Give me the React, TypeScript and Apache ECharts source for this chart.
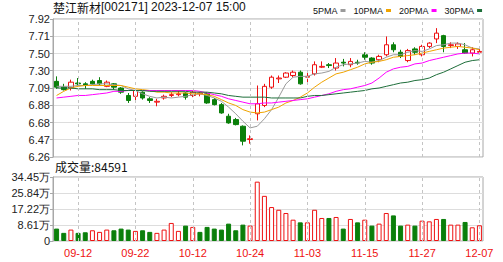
import React, { useEffect, useRef } from 'react';
import * as echarts from 'echarts';

const titleName = '楚江新材';
const titleRest = '[002171] 2023-12-07 15:00';
const volumeTitle = '成交量:84591';

const dates = [
  '09-07', '09-08', '09-11', '09-12', '09-13', '09-14', '09-15', '09-18', '09-19', '09-20',
  '09-21', '09-22', '09-25', '09-26', '09-27', '09-28', '10-09', '10-10', '10-11', '10-12',
  '10-13', '10-16', '10-17', '10-18', '10-19', '10-20', '10-23', '10-24', '10-25', '10-26',
  '10-27', '10-30', '10-31', '11-01', '11-02', '11-03', '11-06', '11-07', '11-08', '11-09',
  '11-10', '11-13', '11-14', '11-15', '11-16', '11-17', '11-20', '11-21', '11-22', '11-23',
  '11-24', '11-27', '11-28', '11-29', '11-30', '12-01', '12-04', '12-05', '12-06', '12-07',
];

// [open, close, low, high]
const ohlc = [
  [7.17, 7.10, 7.08, 7.23], [7.10, 7.07, 7.06, 7.14], [7.09, 7.16, 7.06, 7.19], [7.15, 7.14, 7.12, 7.21],
  [7.14, 7.12, 7.08, 7.16], [7.17, 7.14, 7.13, 7.19], [7.18, 7.14, 7.12, 7.22], [7.11, 7.16, 7.10, 7.18],
  [7.14, 7.10, 7.07, 7.15], [7.09, 7.04, 7.02, 7.10], [7.00, 6.94, 6.91, 7.03], [6.99, 7.06, 6.94, 7.07],
  [7.04, 6.97, 6.95, 7.05], [6.96, 6.94, 6.91, 6.98], [6.92, 6.93, 6.87, 6.96], [6.97, 6.99, 6.95, 7.01],
  [7.00, 7.01, 6.98, 7.04], [7.01, 7.02, 6.99, 7.06], [7.03, 6.98, 6.95, 7.04], [7.00, 7.04, 6.98, 7.06],
  [7.02, 7.03, 6.99, 7.04], [7.02, 6.91, 6.90, 7.04], [6.95, 6.89, 6.88, 6.97], [6.89, 6.79, 6.78, 6.91],
  [6.75, 6.67, 6.66, 6.78], [6.71, 6.65, 6.64, 6.73], [6.63, 6.45, 6.40, 6.64], [6.47, 6.48, 6.42, 6.52],
  [6.78, 6.90, 6.70, 7.12], [6.88, 7.11, 6.86, 7.14], [7.10, 7.22, 7.08, 7.24], [7.20, 7.21, 7.15, 7.24],
  [7.22, 7.27, 7.21, 7.28], [7.24, 7.28, 7.22, 7.30], [7.28, 7.14, 7.13, 7.30], [7.22, 7.23, 7.16, 7.27],
  [7.26, 7.37, 7.24, 7.41], [7.34, 7.35, 7.33, 7.41], [7.37, 7.36, 7.33, 7.39], [7.33, 7.39, 7.30, 7.45],
  [7.40, 7.39, 7.35, 7.44], [7.37, 7.41, 7.34, 7.45], [7.40, 7.39, 7.37, 7.43], [7.49, 7.46, 7.43, 7.52],
  [7.45, 7.39, 7.37, 7.46], [7.43, 7.47, 7.40, 7.49], [7.49, 7.61, 7.47, 7.71], [7.61, 7.55, 7.52, 7.64],
  [7.52, 7.47, 7.45, 7.55], [7.42, 7.54, 7.40, 7.56], [7.56, 7.52, 7.49, 7.58], [7.49, 7.59, 7.47, 7.61],
  [7.59, 7.63, 7.57, 7.64], [7.68, 7.75, 7.63, 7.81], [7.72, 7.59, 7.52, 7.73], [7.60, 7.61, 7.57, 7.64],
  [7.59, 7.62, 7.56, 7.64], [7.55, 7.51, 7.50, 7.63], [7.51, 7.55, 7.47, 7.58], [7.52, 7.53, 7.49, 7.57],
];

const ma5 = [
  7.11, 7.11, 7.11, 7.12, 7.12, 7.13, 7.14, 7.14, 7.13, 7.12,
  7.08, 7.06, 7.02, 6.99, 6.97, 6.98, 6.97, 6.98, 6.99, 7.01,
  7.02, 7.00, 6.97, 6.93, 6.86, 6.78, 6.69, 6.61, 6.63, 6.72,
  6.83, 6.98, 7.14, 7.22, 7.23, 7.23, 7.26, 7.27, 7.29, 7.34,
  7.37, 7.38, 7.39, 7.41, 7.40, 7.42, 7.46, 7.49, 7.49, 7.52,
  7.54, 7.53, 7.56, 7.60, 7.61, 7.63, 7.63, 7.61, 7.57, 7.56,
];
const ma10 = [
  7.00, 7.05, 7.09, 7.11, 7.12, 7.12, 7.12, 7.12, 7.12, 7.12,
  7.10, 7.08, 7.07, 7.06, 7.04, 7.04, 7.03, 7.03, 7.03, 7.02,
  7.02, 7.01, 6.99, 6.95, 6.91, 6.88, 6.83, 6.80, 6.79, 6.80,
  6.83, 6.86, 6.91, 6.94, 6.98, 7.03, 7.10, 7.16, 7.21, 7.26,
  7.28, 7.31, 7.34, 7.38, 7.40, 7.41, 7.43, 7.46, 7.47, 7.48,
  7.49, 7.51, 7.53, 7.55, 7.57, 7.58, 7.59, 7.58, 7.57, 7.55,
];
const ma20 = [
  6.97, 6.98, 6.99, 7.00, 7.00, 7.01, 7.02, 7.03, 7.05, 7.05,
  7.06, 7.06, 7.06, 7.06, 7.06, 7.06, 7.06, 7.06, 7.06, 7.06,
  7.05, 7.03, 7.01, 6.99, 6.96, 6.94, 6.92, 6.90, 6.90, 6.91,
  6.91, 6.92, 6.93, 6.94, 6.95, 6.96, 6.98, 7.00, 7.02, 7.05,
  7.07, 7.08, 7.10, 7.12, 7.15, 7.21, 7.28, 7.32, 7.34, 7.35,
  7.38, 7.39, 7.42, 7.44, 7.46, 7.48, 7.50, 7.51, 7.51, 7.50,
];
const ma30 = [
  7.09, 7.09, 7.09, 7.08, 7.08, 7.08, 7.07, 7.07, 7.07, 7.06,
  7.06, 7.06, 7.06, 7.05, 7.05, 7.05, 7.05, 7.05, 7.05, 7.04,
  7.04, 7.04, 7.03, 7.02, 7.00, 6.99, 6.98, 6.98, 6.98, 6.98,
  6.97, 6.97, 6.97, 6.97, 6.97, 6.99, 7.00, 7.00, 7.01, 7.02,
  7.03, 7.04, 7.05, 7.06, 7.08, 7.09, 7.11, 7.13, 7.15, 7.16,
  7.18, 7.19, 7.21, 7.25, 7.28, 7.32, 7.36, 7.40, 7.42, 7.43,
];

const volumes = [
  66800, 43800, 61400, 43800, 47000, 57700, 49100, 61400, 57700, 66800,
  61400, 54500, 57700, 49100, 43800, 61400, 97200, 54500, 82800, 75800,
  49100, 75800, 66800, 61400, 93500, 57700, 88100, 82800, 319400, 243000,
  182700, 168200, 150600, 114800, 100400, 100400, 168200, 123900, 123900, 129300,
  66800, 118600, 100400, 114800, 82800, 93500, 150600, 137800, 82800, 88100,
  82800, 109500, 105800, 118600, 118600, 88100, 88100, 102500, 73700, 84591,
];
// 1 = red (rising), 0 = green (falling)
const volumeUp = [
  0, 0, 1, 0, 0, 1, 1, 1, 0, 0,
  0, 1, 0, 0, 1, 1, 1, 1, 0, 1,
  0, 0, 0, 0, 0, 0, 0, 1, 1, 1,
  1, 1, 1, 1, 0, 1, 1, 1, 0, 1,
  0, 1, 0, 1, 0, 1, 1, 0, 0, 1,
  0, 1, 1, 1, 0, 1, 1, 0, 1, 1,
];

const priceLabels = ['6.26', '6.47', '6.68', '6.88', '7.09', '7.30', '7.50', '7.71', '7.92'];
const volumeLabels = ['0', '8.61万', '17.22万', '25.84万', '34.45万'];
const markedDates = ['09-12', '09-22', '10-12', '10-24', '11-03', '11-15', '11-27', '12-07'];
const maNames = ['5PMA', '10PMA', '20PMA', '30PMA'];

const UP = '#ee1111';
const DOWN = '#0a7f0a';
const MA_COLORS = ['#9a9a9a', '#f0a400', '#ff00ff', '#1e6e3a'];
const BORDER = '#a8a8a8';

export default function App() {
  const ref = useRef<HTMLDivElement>(null);

  useEffect(() => {
    if (!ref.current) return;
    const chart = echarts.init(ref.current, undefined, { renderer: 'svg' });
    const priceMin = 6.26;
    const priceStep = 0.2075;
    const volStep = 86125;

    const dashedLines = {
      silent: true,
      symbol: ['none', 'none'],
      label: { show: false },
      lineStyle: { color: '#c4c4c4', type: [3, 3], width: 1 },
      data: markedDates.map((d) => ({ xAxis: d })),
    };

    const maSeries = [ma5, ma10, ma20, ma30].map((arr, k) => ({
      name: maNames[k],
      type: 'line',
      xAxisIndex: 0,
      yAxisIndex: 0,
      data: arr,
      showSymbol: false,
      symbol: 'none',
      color: MA_COLORS[k],
      lineStyle: { width: 1, color: MA_COLORS[k] },
      z: 3,
      ...(k === 0 ? { markLine: dashedLines } : {}),
    }));

    const option: any = {
      animation: false,
      backgroundColor: '#ffffff',
      textStyle: { fontFamily: 'Arial, "Liberation Sans", sans-serif' },
      grid: [
        { left: 53, top: 19, width: 430, height: 138, show: true, borderColor: BORDER, borderWidth: 1 },
        { left: 53, top: 177, width: 430, height: 64, show: true, borderColor: BORDER, borderWidth: 1 },
      ],
      legend: {
        data: maNames,
        left: 308,
        top: 1,
        align: 'right',
        icon: 'rect',
        itemWidth: 5,
        itemHeight: 3,
        itemGap: 8,
        selectedMode: false,
        textStyle: { fontSize: 9, fontFamily: '"Liberation Sans", Arial', color: '#111', padding: [0, -2, 0, 0] },
      },
      graphic: [
        {
          type: 'text',
          left: 53,
          top: 1,
          style: {
            text: `{a|${titleName}}{b|${titleRest}}`,
            rich: {
              a: { fontSize: 12, fontFamily: '"Noto Sans CJK SC", sans-serif', fill: '#111' },
              b: { fontSize: 12, fontFamily: '"Liberation Sans", Arial', fill: '#111' },
            },
          },
        },
        {
          type: 'text',
          left: 55,
          top: 160,
          style: { text: volumeTitle, fontSize: 12, fontFamily: '"Noto Sans CJK SC", sans-serif', fill: '#111' },
        },
      ],
      xAxis: [
        {
          type: 'category',
          gridIndex: 0,
          data: dates,
          boundaryGap: true,
          axisLine: { show: false },
          axisTick: { show: false },
          axisLabel: { show: false },
          splitLine: { show: false },
        },
        {
          type: 'category',
          gridIndex: 1,
          data: dates,
          boundaryGap: true,
          axisLine: { show: false },
          axisTick: { show: false },
          axisLabel: {
            interval: (i: number) => markedDates.includes(dates[i]),
            color: UP,
            fontSize: 11,
            fontFamily: 'Arial, "Liberation Sans"',
            margin: 6,
          },
          splitLine: { show: false },
        },
      ],
      yAxis: [
        {
          type: 'value',
          gridIndex: 0,
          min: priceMin,
          max: 7.92,
          interval: priceStep,
          axisLine: { show: true, lineStyle: { color: BORDER } },
          axisTick: { show: true, length: 3, lineStyle: { color: BORDER } },
          axisLabel: {
            formatter: (v: number) => priceLabels[Math.round((v - priceMin) / priceStep)] ?? '',
            color: '#222',
            fontSize: 11,
            margin: 3,
          },
          splitLine: { show: true, lineStyle: { color: '#dddddd' } },
        },
        {
          type: 'value',
          gridIndex: 1,
          min: 0,
          max: 344500,
          interval: volStep,
          axisLine: { show: true, lineStyle: { color: BORDER } },
          axisTick: { show: true, length: 3, lineStyle: { color: BORDER } },
          axisLabel: {
            formatter: (v: number) => volumeLabels[Math.round(v / volStep)] ?? '',
            color: '#222',
            fontSize: 11,
            margin: 3,
          },
          splitLine: { show: true, lineStyle: { color: '#dddddd' } },
        },
      ],
      series: [
        {
          name: 'K',
          type: 'candlestick',
          xAxisIndex: 0,
          yAxisIndex: 0,
          data: ohlc,
          barWidth: 5,
          itemStyle: { color: '#ffffff', color0: DOWN, borderColor: UP, borderColor0: DOWN, borderWidth: 1 },
          z: 2,
        },
        ...maSeries,
        {
          name: 'VOL',
          type: 'bar',
          xAxisIndex: 1,
          yAxisIndex: 1,
          barWidth: 5,
          data: volumes.map((v, i) => ({
            value: v,
            itemStyle: volumeUp[i]
              ? { color: '#ffffff', borderColor: UP, borderWidth: 1 }
              : { color: DOWN, borderColor: DOWN, borderWidth: 1 },
          })),
          markLine: dashedLines,
        },
      ],
    };

    chart.setOption(option);
    return () => chart.dispose();
  }, []);

  return <div ref={ref} style={{ position: 'fixed', left: 0, top: 0, width: 503, height: 262, background: '#fff' }} />;
}
